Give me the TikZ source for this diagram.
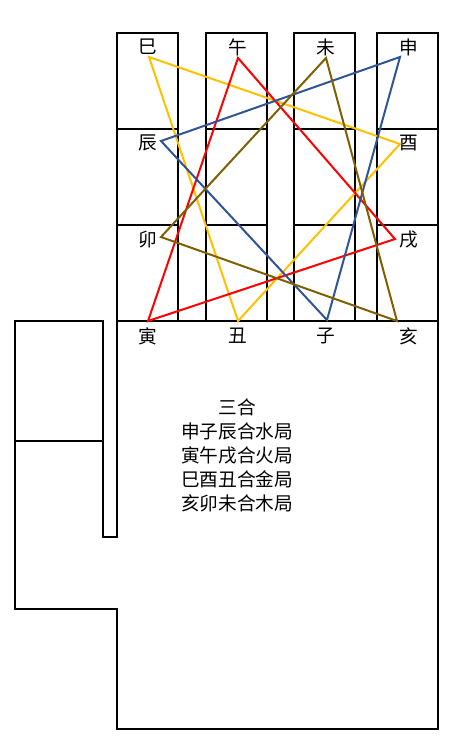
\documentclass[tikz,border=0pt]{standalone}
\usepackage{fontspec}
\setmainfont{Noto Sans CJK SC}
\definecolor{sanheYellow}{RGB}{255,192,0}
\definecolor{sanheRed}{RGB}{255,0,0}
\definecolor{sanheBlue}{RGB}{47,85,151}
\definecolor{sanheOlive}{RGB}{127,96,0}
\tikzset{
  frame/.style={black, line width=1pt},
  triad/.style={line width=1.5pt, line join=miter},
  branch/.style={inner sep=0pt, font=\fontsize{14pt}{16pt}\selectfont}
}
\begin{document}
\begin{tikzpicture}[x=0.75pt, y=-0.75pt]
				\useasboundingbox (0,0) rectangle (474,744);
				
				% 四列格子
				\foreach \xa/\xb in {117/178, 206/267, 294/355, 377/438} {
					\draw[frame] (\xa,33) rectangle (\xb,321);
					\draw[frame] (\xa,129) -- (\xb,129);
					\draw[frame] (\xa,225) -- (\xb,225);
				}
				
				% 下方外框
				\draw[frame] (117,321) -- (438,321) -- (438,729) -- (117,729) -- (117,609) -- (15,609)
					-- (15,321) -- (103,321) -- (103,537) -- (117,537) -- (117,321);
				\draw[frame] (15,441) -- (103,441);
				
				% 地支
				\node[branch] (si)   at (148,47)  {巳};
				\node[branch] (wu)   at (238,47)  {午};
				\node[branch] (wei)  at (326,47)  {未};
				\node[branch] (shen) at (409,47)  {申};
				\node[branch] (chen) at (148,143) {辰};
				\node[branch] (you)  at (409,143) {酉};
				\node[branch] (mao)  at (148,240) {卯};
				\node[branch] (xu)   at (409,240) {戌};
				\node[branch] (yin)  at (148,336) {寅};
				\node[branch] (chou) at (238,336) {丑};
				\node[branch] (zi)   at (326,336) {子};
				\node[branch] (hai)  at (409,336) {亥};
				
				% 三角形顶点
				\coordinate (pSi)   at (149,57);
				\coordinate (pYou)  at (400,144);
				\coordinate (pChou) at (238,321);
				\coordinate (pWu)   at (238,58);
				\coordinate (pXu)   at (395,239);
				\coordinate (pYin)  at (148,321);
				\coordinate (pShen) at (400,57);
				\coordinate (pChen) at (161,141);
				\coordinate (pZi)   at (327,320);
				\coordinate (pWei)  at (326,58);
				\coordinate (pMao)  at (161,237);
				\coordinate (pHai)  at (397,321);
				
				% 三合
				\draw[triad, sanheYellow] (pSi) -- (pYou) -- (pChou) -- cycle;
				\draw[triad, sanheRed] (pWu) -- (pXu) -- (pYin) -- cycle;
				\draw[triad, sanheBlue] (pShen) -- (pChen) -- (pZi) -- cycle;
				\draw[triad, sanheOlive] (pWei) -- (pMao) -- (pHai) -- cycle;
				
				% 说明文字
				\node[align=center, inner sep=0pt, font=\fontsize{14pt}{18pt}\selectfont] (note) at (237,455)
					{三合\\申子辰合水局\\寅午戌合火局\\巳酉丑合金局\\亥卯未合木局};
			\end{tikzpicture}
\end{document}
